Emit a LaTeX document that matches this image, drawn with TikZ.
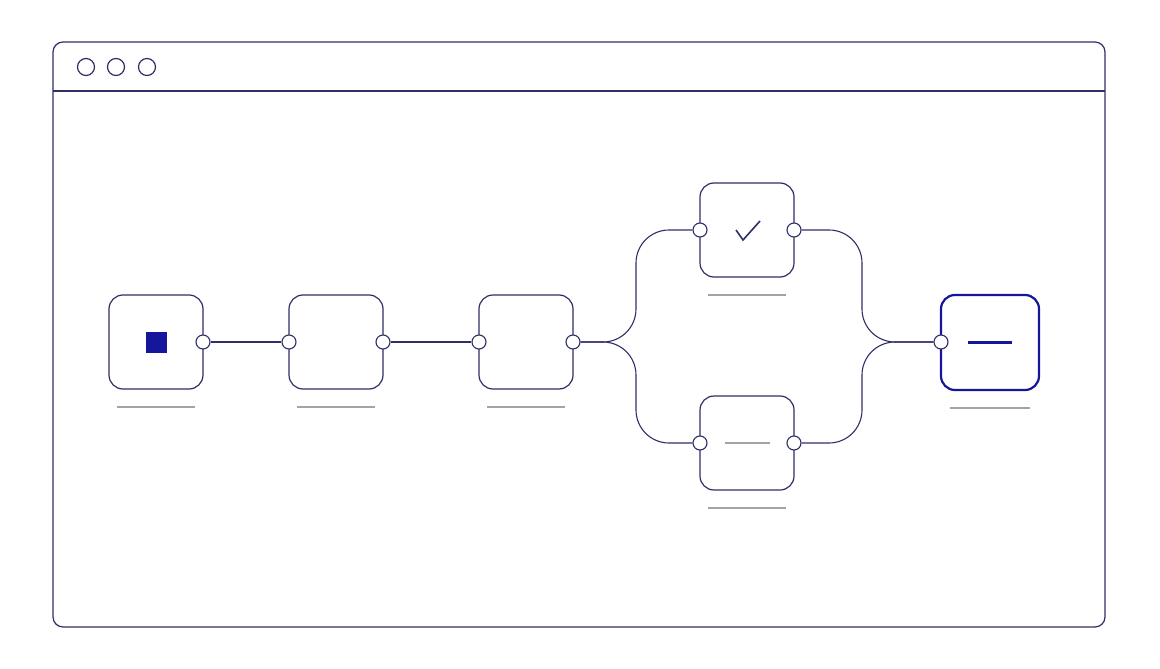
\documentclass[tikz,border=0pt]{standalone}
\usetikzlibrary{calc}
\definecolor{ink}{HTML}{2E2F66}
\definecolor{deep}{HTML}{16169C}
\definecolor{rulegray}{HTML}{A2A2AA}
\tikzset{
  box/.style={draw=ink, line width=1.2pt, rounded corners=14pt, minimum size=94pt,
    inner sep=0pt, outer sep=0pt, fill=white},
  port/.style={circle, draw=ink, line width=1.1pt, fill=white, minimum size=14pt, inner sep=0pt},
  dot/.style={circle, draw=ink, line width=1.2pt, minimum size=17pt, inner sep=0pt},
  wire/.style={draw=ink, line width=1.1pt},
  tag/.style={draw=rulegray, line width=1.2pt}
}
\begin{document}
\begin{tikzpicture}[x=1pt, y=-1pt]
      \useasboundingbox (0,0) rectangle (1160,669);
      \draw[ink, line width=1.2pt, rounded corners=10pt] (53,42) rectangle (1105,627);
      \draw[ink, line width=1.2pt] (53,91) -- (1105,91);
      \foreach \i/\x in {1/86,2/116,3/147}
        \node[dot] (d\i) at (\x,67) {};

      \node[box] (b1) at (156,342) {};
      \node[box] (b2) at (336,342) {};
      \node[box] (b3) at (526,342) {};
      \node[box] (b4) at (747,230) {};
      \node[box] (b5) at (747,443) {};
      \node[box, draw=deep, line width=2.2pt, minimum width=98pt, minimum height=95pt] (b6) at (990,342.5) {};

      \node[fill=deep, minimum size=21pt, inner sep=0pt] (sq) at (b1) {};
      \draw[ink, line width=1.6pt] ([shift={(-11,0)}]b4.center) -- ++(7,10) -- ++(17,-19);
      \draw[tag] ([shift={(-22,0)}]b5.center) -- ++(45,0);
      \draw[deep, line width=2.2pt] ([shift={(-22,0)}]b6.center) -- ++(44,0);

      \foreach \b in {b1,b2,b3,b4,b5}
        \draw[tag] ([shift={(-39,18)}]\b.south) -- ++(78,0);
      \draw[tag] ([shift={(-40,18)}]b6.south) -- ++(80,0);

      \node[port] (p1r) at (b1.east) {};
      \node[port] (p2l) at (b2.west) {};
      \node[port] (p2r) at (b2.east) {};
      \node[port] (p3l) at (b3.west) {};
      \node[port] (p3r) at (b3.east) {};
      \node[port] (p4l) at (b4.west) {};
      \node[port] (p4r) at (b4.east) {};
      \node[port] (p5l) at (b5.west) {};
      \node[port] (p5r) at (b5.east) {};
      \node[port] (p6l) at (b6.west |- b3.east) {};

      \path[wire] (p1r) -- (p2l);
      \path[wire] (p2r) -- (p3l);
      \path[wire, rounded corners=33pt] (p3r) -| ([xshift=-64]p4l.center) -- (p4l);
      \path[wire, rounded corners=33pt] (p3r) -| ([xshift=-64]p5l.center) -- (p5l);
      \path[wire, rounded corners=33pt] (p4r) -- ([xshift=68]p4r.center) |- (p6l);
      \path[wire, rounded corners=33pt] (p5r) -- ([xshift=68]p5r.center) |- (p6l);
    \end{tikzpicture}
\end{document}
